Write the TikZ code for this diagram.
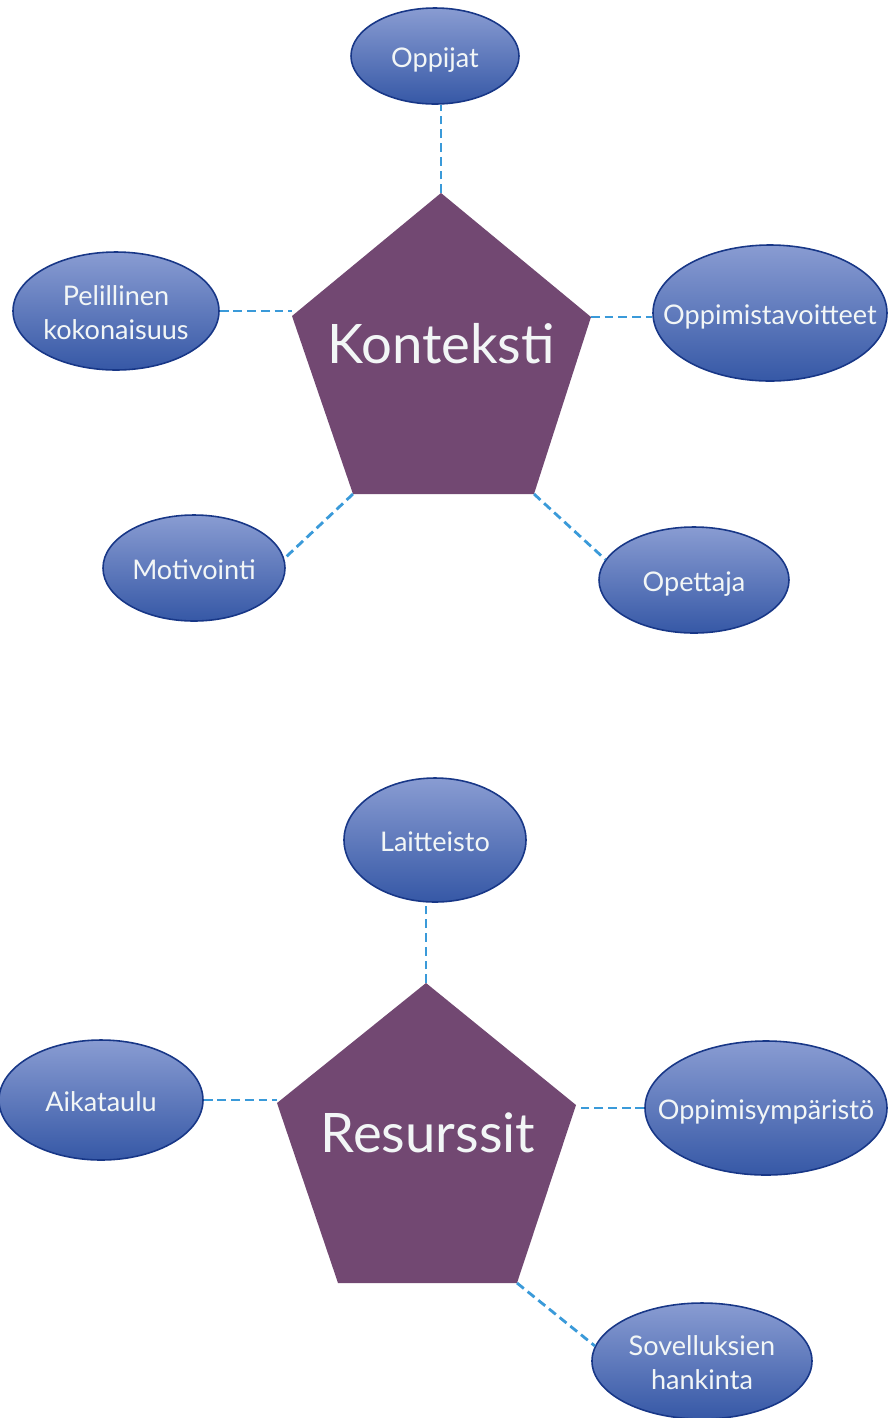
\documentclass[tikz,border=0pt]{standalone}
\usepackage{fontspec}
\setmainfont{Lato}
\usetikzlibrary{shapes.geometric}
\definecolor{bubbletop}{RGB}{137,156,210}
\definecolor{bubblebot}{RGB}{54,88,166}
\definecolor{bubbleline}{RGB}{24,55,135}
\definecolor{penta}{RGB}{114,72,114}
\definecolor{linkblue}{RGB}{58,154,217}
\definecolor{labelwhite}{RGB}{242,246,246}
\tikzset{
  bubble/.style={ellipse, draw=bubbleline, line width=0.9pt, top color=bubbletop, bottom color=bubblebot, inner sep=0pt},
  btext/.style={text=labelwhite, font=\fontsize{15.4}{19.5}\selectfont, align=center, text depth=0pt, yshift=-0.03cm},
  ptext/.style={text=labelwhite, font=\fontsize{31}{36}\selectfont},
  link/.style={linkblue, line width=1.6pt, dash pattern=on 5pt off 2.8pt}
}
\begin{document}
\begin{tikzpicture}[x=0.02cm, y=-0.02cm]
    \useasboundingbox (0,0) rectangle (888,1418);
    % pentagon corners
    \coordinate (k1) at (441,193);
    \coordinate (k2) at (591,317);
    \coordinate (k3) at (534,494);
    \coordinate (k4) at (353,494);
    \coordinate (k5) at (292,316);
    \coordinate (r1) at (426,983);
    \coordinate (r2) at (576,1105);
    \coordinate (r3) at (517,1283);
    \coordinate (r4) at (338,1283);
    \coordinate (r5) at (277,1103);
    \fill[penta] (k1) -- (k2) -- (k3) -- (k4) -- (k5) -- cycle;
    \fill[penta] (r1) -- (r2) -- (r3) -- (r4) -- (r5) -- cycle;
    \node[ptext] (konteksti) at (441,344) {Konteksti};
    \node[ptext] (resurssit) at (428,1133) {Resurssit};
    % bubbles
    \foreach \name/\x/\y/\rx/\ry/\txt in {
        oppijat/435/56/84/48/Oppijat,
        pelillinen/116/311/103/59/{Pelillinen\\kokonaisuus},
        tavoitteet/770/313/117/68/Oppimistavoitteet,
        motivointi/194/568/91/53/Motivointi,
        opettaja/694/580/95/53/Opettaja,
        laitteisto/435/840/91/62/Laitteisto,
        aikataulu/101/1100/102/60/Aikataulu,
        ymparisto/766/1108/121/67/Oppimisympäristö,
        hankinta/702/1361/110/58/{Sovelluksien\\hankinta}}
    {
        \node[bubble, minimum width=2*\rx*0.02cm, minimum height=2*\ry*0.02cm] (\name) at (\x,\y) {};
        \node[btext] (\name-t) at (\name) {\txt};
    }
    % links
    \draw[link] (k1) -- (k1 |- oppijat.south);
    \draw[link] (pelillinen.east) -- (pelillinen.east -| k5);
    \draw[link] (k2) -- (k2 -| tavoitteet.west);
    \draw[link] (k4) -- (motivointi.6);
    \draw[link] (k3) -- (opettaja.167);
    \draw[link] (r1) -- (r1 |- laitteisto.south);
    \draw[link] (aikataulu.east) -- (aikataulu.east -| r5);
    \draw[link] (ymparisto.west) -- (ymparisto.west -| r2);
    \draw[link] (r3) -- (hankinta.172);
\end{tikzpicture}
\end{document}
